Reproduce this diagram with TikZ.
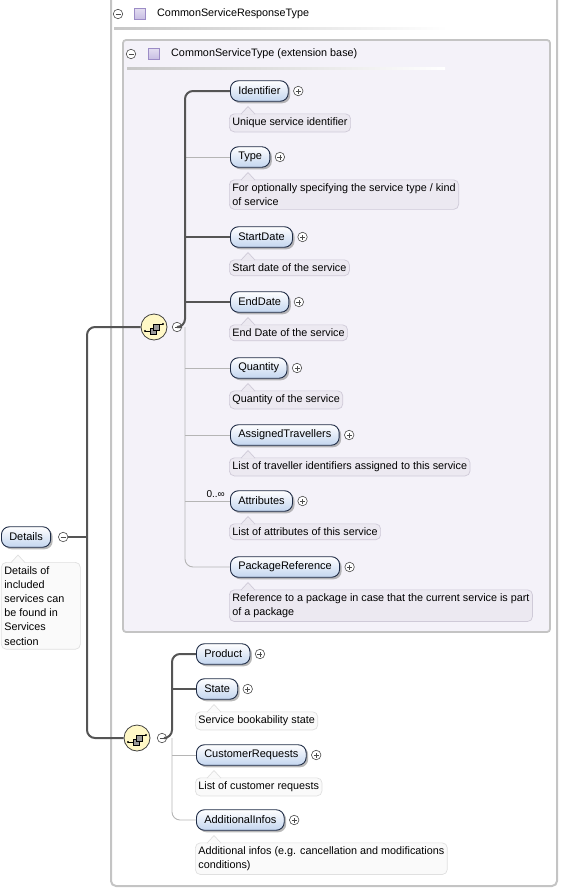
\documentclass[tikz,border=0pt]{standalone}
\usepackage{fontspec}
\setmainfont{Liberation Sans}
\usetikzlibrary{positioning,calc,shadows}
\definecolor{elemc}{HTML}{C3D5EF}
\definecolor{elemb}{HTML}{1E2B45}
\definecolor{boxc}{HTML}{F4F2F9}
\definecolor{boxb}{HTML}{C4C4C4}
\definecolor{docc}{HTML}{ECE9F1}
\definecolor{docb}{HTML}{CFCAD8}
\definecolor{docwc}{HTML}{FAFAFA}
\definecolor{docwb}{HTML}{E0E0E0}
\definecolor{mandc}{HTML}{555555}
\definecolor{optc}{HTML}{B5B5B5}
\definecolor{seqc}{HTML}{FFF8C6}
\definecolor{typec}{HTML}{C7BCE3}
\definecolor{typeb}{HTML}{9C8CC6}
\newcommand{\xsfont}{\fontsize{10.8}{13.6}\selectfont}
\tikzset{
  elem/.style={draw=elemb,line width=0.9pt,rounded corners=8pt,top color=white,bottom color=elemc,
    minimum height=20.5pt,inner xsep=7.8pt,inner ysep=0pt,anchor=west,font=\fontsize{11}{13}\selectfont,
    drop shadow={shadow xshift=2pt,shadow yshift=-2pt,fill=black!50,opacity=0.55}},
  doc/.style={draw=docb,fill=docc,line width=0.7pt,rounded corners=5pt,anchor=north west,
    align=left,inner xsep=3pt,inner ysep=4pt,font=\xsfont},
  doc ptr/.style={draw=docb,fill=docc,line width=0.7pt},
  docw/.style={doc,draw=docwb,fill=docwc},
  docw ptr/.style={draw=docwb,fill=docwc,line width=0.7pt},
  tog/.style={circle,draw=black!70,fill=white,line width=0.6pt,minimum size=9.5pt,inner sep=0pt},
  minus/.style={tog,path picture={\draw[line width=0.7pt]
    ([xshift=-2.5pt]path picture bounding box.center) -- ([xshift=2.5pt]path picture bounding box.center);}},
  plus/.style={tog,path picture={\draw[line width=0.7pt]
    ([xshift=-2.5pt]path picture bounding box.center) -- ([xshift=2.5pt]path picture bounding box.center)
    ([yshift=-2.5pt]path picture bounding box.center) -- ([yshift=2.5pt]path picture bounding box.center);}},
  seq/.style={circle,draw=black!75,fill=seqc,line width=0.8pt,minimum size=26pt,inner sep=0pt},
  typeicon/.style={draw=typeb,top color=typec!50,bottom color=typec,line width=0.6pt,minimum size=11pt,inner sep=0pt},
  head/.style={anchor=west,font=\xsfont,inner sep=0pt},
  card/.style={anchor=south east,font=\fontsize{10}{11}\selectfont,inner sep=1pt},
  mand/.style={draw=mandc,line width=2pt,rounded corners=8pt},
  opt/.style={draw=optc,line width=0.9pt,rounded corners=8pt},
  seqmark/.pic={
    \draw[line width=0.6pt] (-9,4) -- (-3,4) (4,-3) -- (9,-3);
    \fill (-9,4) circle (1.1pt) (9,-3) circle (1.1pt);
    \draw[fill=black!40,line width=0.6pt] (-4,1) rectangle (2,7);
    \draw[fill=black!40,line width=0.6pt] (-1,-3) rectangle (5,3);},
}
\newcommand{\elem}[3]{\node[elem] (#1) at (#2) {#3};\node[plus,right=4.5pt of #1] (#1p) {};}
\newcommand{\doc}[3][doc]{\node[#1] (#2d) at ($(#2.west)+(-1,22.5)$) {#3};
  \filldraw[#1 ptr] ([xshift=12pt,yshift=-0.6pt]#2d.north west) -- ([xshift=19pt,yshift=7pt]#2d.north west)
    -- ([xshift=26pt,yshift=-0.6pt]#2d.north west);}

\begin{document}
\begin{tikzpicture}[x=1pt,y=-1pt]
  \useasboundingbox (0,0) rectangle (560,889);
  % frames
  \draw[boxb,line width=2pt,rounded corners=5pt] (111,-5) -- (111,886) -- (557,886) -- (557,-5);
  \draw[draw=boxb,fill=boxc,line width=1.8pt,rounded corners=3pt] (123,40) rectangle (550,632);
  \shade[left color=black!22,right color=white] (114,27.5) rectangle (447,29);
  \shade[left color=black!22,right color=white] (127,67.5) rectangle (445,69);
  \node[minus] (h1m) at (118,14) {};
  \node[typeicon] (h1t) at (139.5,14) {};
  \node[head] (h1) at (157,14) {CommonServiceResponseType};
  \node[minus] (h2m) at (131,54) {};
  \node[typeicon] (h2t) at (153.5,54) {};
  \node[head] (h2) at (171,54) {CommonServiceType (extension base)};

  % root
  \node[elem] (details) at (1,537) {Details};
  \node[minus,right=7pt of details] (detm) {};
  \node[docw] (detailsd) at (1,562) {\parbox{73pt}{\fontsize{10.8}{14.2}\selectfont Details of\\included\\services can\\be found in\\Services\\section}};
  \filldraw[docw ptr] ([xshift=10pt,yshift=-0.6pt]detailsd.north west) -- ([xshift=17pt,yshift=7pt]detailsd.north west)
    -- ([xshift=24pt,yshift=-0.6pt]detailsd.north west);

  % sequences
  \node[seq] (seq1) at (154,327) {}; \pic at (seq1) {seqmark};
  \node[minus] (m1) at (177,327) {};
  \node[seq] (seq2) at (137,738) {}; \pic at (seq2) {seqmark};
  \node[minus] (m2) at (162,738) {};
  \coordinate (busd) at (87,0);
  \coordinate (bus1) at (185,0);
  \coordinate (bus2) at (172,0);

  % CommonServiceType
  \elem{ident}{230,91}{Identifier}
  \doc{ident}{Unique service identifier}
  \elem{type}{230,157}{Type}
  \doc{type}{For optionally specifying the service type / kind\\of service}
  \elem{start}{230,237}{StartDate}
  \doc{start}{Start date of the service}
  \elem{endd}{230,302}{EndDate}
  \doc{endd}{End Date of the service}
  \elem{qty}{230,368}{Quantity}
  \doc{qty}{Quantity of the service}
  \elem{trav}{230,435}{AssignedTravellers}
  \doc{trav}{List of traveller identifiers assigned to this service}
  \elem{attrs}{230,501}{Attributes}
  \doc{attrs}{List of attributes of this service}
  \node[card] (attrsc) at ($(attrs.west)+(-4,-2)$) {0..∞};
  \elem{pkg}{230,567}{PackageReference}
  \doc{pkg}{Reference to a package in case that the current service is part\\of a package}

  % CommonServiceResponseType
  \elem{prod}{196,654}{Product}
  \elem{state}{196,689}{State}
  \doc[docw]{state}{Service bookability state}
  \elem{creq}{196,755}{CustomerRequests}
  \doc[docw]{creq}{List of customer requests}
  \elem{addi}{196,820}{AdditionalInfos}
  \doc[docw]{addi}{Additional infos (e.g. cancellation and modifications\\conditions)}

  % connectors
  \draw[mand] (detm.east) -- (busd |- detm.east);
  \draw[mand] (seq1.west) -| (busd |- detm.east) |- (seq2.west);
  \draw[opt] (bus1 |- m1.east) |- (pkg.west);
  \foreach \n in {type,qty,trav,attrs}
    \draw[opt] (bus1 |- \n.west) -- (\n.west);
  \draw[mand] (m1.east) -- (bus1 |- m1.east) |- (ident.west);
  \draw[mand] (bus1 |- start.west) -- (start.west);
  \draw[mand] (bus1 |- endd.west) -- (endd.west);
  \draw[opt] (bus2 |- m2.east) |- (addi.west);
  \draw[opt] (bus2 |- creq.west) -- (creq.west);
  \draw[mand] (m2.east) -- (bus2 |- m2.east) |- (prod.west);
  \draw[mand] (bus2 |- state.west) -- (state.west);
\end{tikzpicture}
\end{document}
